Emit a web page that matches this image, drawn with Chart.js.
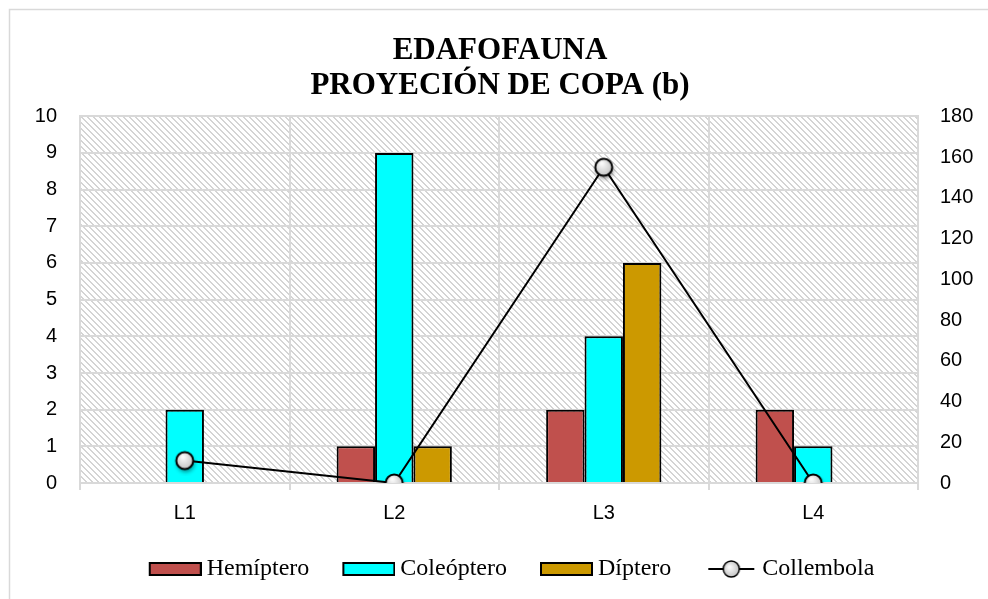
<!DOCTYPE html>
<html>
<head>
<meta charset="utf-8">
<script src="https://cdn.jsdelivr.net/npm/chart.js@4.4.1/dist/chart.umd.min.js"></script>
<style>
  html, body { margin: 0; padding: 0; background: #fff; }
</style>
</head>
<body>
<canvas id="chart" width="988" height="599"></canvas>
<script>
const categories = ["L1", "L2", "L3", "L4"];
const hemiptero = [0, 1, 2, 2];
const coleoptero = [2, 9, 4, 1];
const diptero = [0, 1, 6, 0];
const collembola = [11, 0, 155, 0];
const seriesNames = ["Hemíptero", "Coleóptero", "Díptero", "Collembola"];
const titleLines = ["EDAFOFAUNA", "PROYECIÓN DE COPA (b)"];

const gridColor = "#D9D9D9";
const tickFont = { family: "'Liberation Sans', Arial, sans-serif", size: 20 };

// legend key box width; icons are right-aligned inside a wider transparent canvas
const KEY_W = 69;

// diagonal hatch used as plot background
function makeHatch() {
  const n = 6;
  const c = document.createElement("canvas");
  c.width = n; c.height = n;
  const cx = c.getContext("2d");
  const img = cx.createImageData(n, n);
  for (let y = 0; y < n; y++) {
    for (let x = 0; x < n; x++) {
      const i = (y * n + x) * 4;
      const on = (((x - y) % n) + n) % n < 2;
      const v = on ? 212 : 255;
      img.data[i] = v; img.data[i + 1] = v; img.data[i + 2] = v; img.data[i + 3] = 255;
    }
  }
  cx.putImageData(img, 0, 0);
  return c;
}

// round grey marker with a soft shadow
function markerIcon() {
  const c = document.createElement("canvas");
  c.width = 30; c.height = 30;
  const cx = c.getContext("2d");
  const g = cx.createRadialGradient(13, 11, 1, 15, 15, 10);
  g.addColorStop(0, "#FAFAFA");
  g.addColorStop(1, "#BDBDBD");
  cx.save();
  cx.shadowColor = "rgba(0,0,0,0.45)";
  cx.shadowBlur = 4;
  cx.shadowOffsetX = 1;
  cx.shadowOffsetY = 3;
  cx.beginPath();
  cx.arc(15, 15, 8.5, 0, Math.PI * 2);
  cx.fillStyle = g;
  cx.fill();
  cx.restore();
  cx.beginPath();
  cx.arc(15, 15, 8.5, 0, Math.PI * 2);
  cx.lineWidth = 2;
  cx.strokeStyle = "#000";
  cx.stroke();
  return c;
}

function barIcon(color) {
  const c = document.createElement("canvas");
  c.width = KEY_W + 14; c.height = 14;
  const cx = c.getContext("2d");
  const x0 = c.width - 53;
  cx.fillStyle = color;
  cx.fillRect(x0 + 1, 1, 51, 12);
  cx.strokeStyle = "#000";
  cx.lineWidth = 2;
  cx.strokeRect(x0 + 1, 1, 51, 12);
  return c;
}

function lineIcon() {
  const c = document.createElement("canvas");
  c.width = KEY_W + 14; c.height = 20;
  const cx = c.getContext("2d");
  const x0 = c.width - 49;
  cx.strokeStyle = "#000";
  cx.lineWidth = 2;
  cx.beginPath();
  cx.moveTo(x0, 10); cx.lineTo(x0 + 46, 10);
  cx.stroke();
  const g = cx.createRadialGradient(x0 + 21, 8, 1, x0 + 23, 10, 9);
  g.addColorStop(0, "#FAFAFA");
  g.addColorStop(1, "#BDBDBD");
  cx.beginPath();
  cx.arc(x0 + 23, 10, 8, 0, Math.PI * 2);
  cx.fillStyle = g;
  cx.fill();
  cx.lineWidth = 1.5;
  cx.stroke();
  return c;
}

const colors = ["#C0504D", "#00FFFF", "#CC9900"];
const legendIcons = [barIcon(colors[0]), barIcon(colors[1]), barIcon(colors[2]), lineIcon()];
const marker = markerIcon();

const backgroundPlugin = {
  id: "bg",
  beforeDraw(chart) {
    const ctx = chart.ctx;
    const a = chart.chartArea;
    ctx.save();
    ctx.fillStyle = "#fff";
    ctx.fillRect(0, 0, chart.width, chart.height);
    ctx.strokeStyle = gridColor;
    ctx.lineWidth = 1.5;
    ctx.strokeRect(9.5, 9.5, 1000, 1000);
    ctx.fillStyle = ctx.createPattern(makeHatch(), "repeat");
    ctx.fillRect(a.left, a.top, a.right - a.left, a.bottom - a.top);
    ctx.restore();
  }
};

new Chart(document.getElementById("chart"), {
  data: {
    labels: categories,
    datasets: [
      { type: "bar", label: seriesNames[0], data: hemiptero, backgroundColor: colors[0], borderColor: "#000", borderWidth: 2, yAxisID: "y", order: 1 },
      { type: "bar", label: seriesNames[1], data: coleoptero, backgroundColor: colors[1], borderColor: "#000", borderWidth: 2, yAxisID: "y", order: 1 },
      { type: "bar", label: seriesNames[2], data: diptero, backgroundColor: colors[2], borderColor: "#000", borderWidth: 2, yAxisID: "y", order: 1 },
      { type: "line", label: seriesNames[3], data: collembola, borderColor: "#000", borderWidth: 2,
        pointStyle: marker, pointRadius: 9,
        yAxisID: "y2", order: 0, tension: 0 }
    ]
  },
  options: {
    responsive: false,
    animation: false,
    layout: { padding: { left: 12, right: 0, top: 0, bottom: 8 } },
    datasets: { bar: { barPercentage: 1, categoryPercentage: 0.55 } },
    plugins: {
      tooltip: { enabled: false },
      title: {
        display: true,
        text: titleLines,
        color: "#000",
        font: { family: "'Liberation Serif', 'Times New Roman', serif", size: 31, weight: "bold", lineHeight: 1.15 },
        padding: { top: 33, bottom: 12 }
      },
      legend: {
        position: "bottom",
        labels: {
          usePointStyle: true,
          pointStyleWidth: KEY_W,
          boxHeight: 16,
          padding: 10,
          color: "#000",
          font: { family: "'Liberation Serif', 'Times New Roman', serif", size: 24 },
          generateLabels(chart) {
            return chart.data.datasets.map((ds, i) => ({
              text: ds.label,
              pointStyle: legendIcons[i],
              datasetIndex: i,
              hidden: false,
              fontColor: "#000",
              fillStyle: "transparent",
              strokeStyle: "transparent",
              lineWidth: 0
            }));
          }
        }
      }
    },
    scales: {
      x: {
        grid: { offset: true, color: gridColor, lineWidth: 2, drawTicks: true, tickLength: 7 },
        border: { color: gridColor, width: 2 },
        ticks: { font: tickFont, color: "#000", padding: 11 },
        afterFit(s) { s.height = 64; }
      },
      y: {
        position: "left",
        min: 0, max: 10,
        ticks: { stepSize: 1, font: tickFont, color: "#000", padding: 23 },
        grid: { color: gridColor, lineWidth: 2, drawTicks: false },
        border: { color: gridColor, width: 2 },
        afterFit(s) { s.width = 68; }
      },
      y2: {
        position: "right",
        min: 0, max: 180,
        ticks: { stepSize: 20, font: tickFont, color: "#000", padding: 22 },
        grid: { display: false, drawTicks: false },
        border: { color: gridColor, width: 2 },
        afterFit(s) { s.width = 70; }
      }
    }
  },
  plugins: [backgroundPlugin]
});
</script>
</body>
</html>
